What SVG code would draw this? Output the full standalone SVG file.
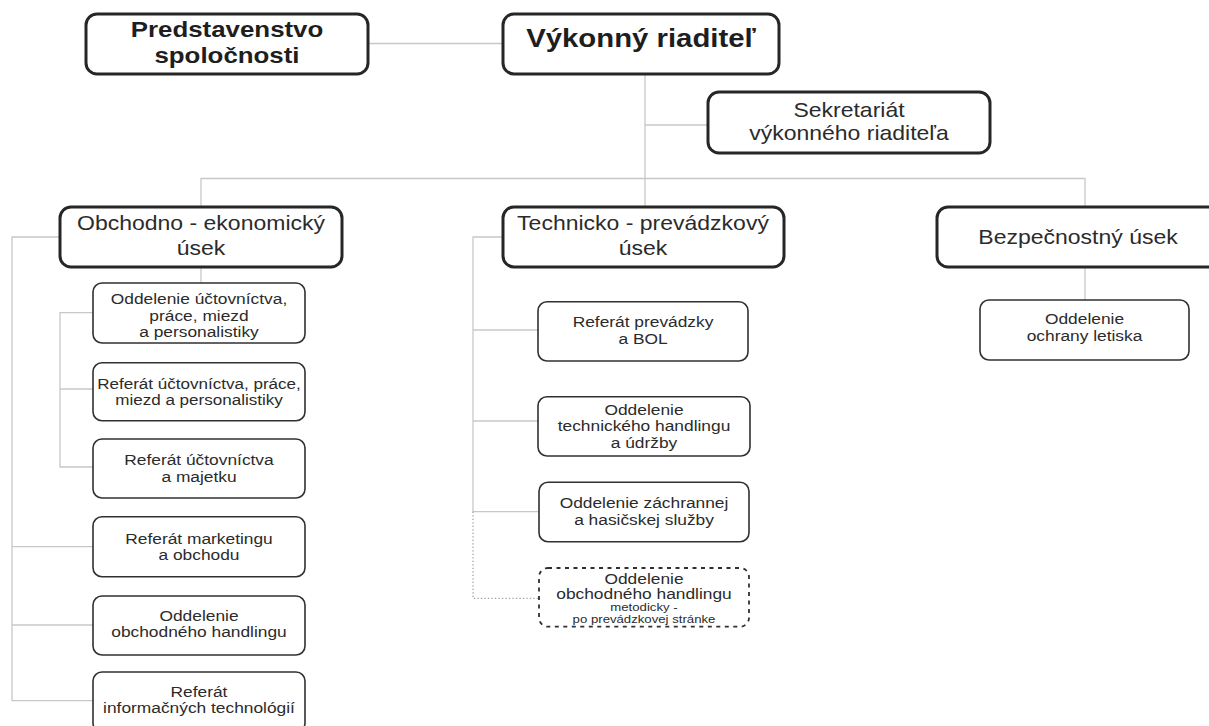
<svg xmlns="http://www.w3.org/2000/svg" width="1209" height="726" viewBox="0 0 1209 726">
<style>
.bg{fill:#ffffff}
.box{fill:#ffffff;stroke:#262626;stroke-width:3}
.sub{fill:#ffffff;stroke:#303030;stroke-width:1.6}
.dash{fill:#ffffff;stroke:#303030;stroke-width:1.8;stroke-dasharray:4 4.5}
.conn{fill:none;stroke:#c8c8c8;stroke-width:1.3}
.dot{fill:none;stroke:#a0a0a0;stroke-width:1.3;stroke-dasharray:1.3 2.2}
text{font-family:"Liberation Sans",Arial,sans-serif;fill:#2b2b2b;text-anchor:middle}
.b1{font-size:25.5px;font-weight:bold;fill:#1e1e1e}
.b2{font-size:22.5px;font-weight:bold;fill:#1e1e1e}
.m{font-size:20px}
.s{font-size:15.5px}
.t{font-size:11px}
</style>
<rect class="bg" x="0" y="0" width="1209" height="726"/>
<g id="connectors">
<path class="conn" d="M368,43.5 H503"/>
<path class="conn" d="M645,74 V207"/>
<path class="conn" d="M645,125 H708"/>
<path class="conn" d="M201,207 V178.5 H1085 V207"/>
<path class="conn" d="M1085,267 V300"/>
<path class="conn" d="M201,267 V283"/>
<path class="conn" d="M93,312.7 H60 V467 H93"/>
<path class="conn" d="M60,389 H93"/>
<path class="conn" d="M60,237 H12 V700.7 H93"/>
<path class="conn" d="M12,546.7 H93"/>
<path class="conn" d="M12,625 H93"/>
<path class="conn" d="M503,237 H473 V511.7 H539"/>
<path class="conn" d="M473,330 H538"/>
<path class="conn" d="M473,421 H538"/>
<path class="dot" d="M473,511.7 V598.3 H539"/>
</g>
<g id="predstavenstvo">
<rect class="box" x="86" y="14" width="282" height="60" rx="11"/>
<text class="b2" transform="translate(227 0) scale(1.15 1)"><tspan x="0" y="37">Predstavenstvo</tspan><tspan x="0" y="63">spoločnosti</tspan></text>
</g>
<g id="vykonny-riaditel">
<rect class="box" x="503" y="14" width="276" height="60" rx="11"/>
<text class="b1" transform="translate(641 0) scale(1.15 1)"><tspan x="0" y="47">Výkonný riaditeľ</tspan></text>
</g>
<g id="sekretariat">
<rect class="box" x="708" y="92" width="282" height="61" rx="11"/>
<text class="m" transform="translate(849 0) scale(1.15 1)"><tspan x="0" y="117">Sekretariát</tspan><tspan x="0" y="140">výkonného riaditeľa</tspan></text>
</g>
<g id="obchodno-ekonomicky">
<rect class="box" x="60" y="207" width="282" height="60" rx="11"/>
<text class="m" transform="translate(201 0) scale(1.15 1)"><tspan x="0" y="230">Obchodno - ekonomický</tspan><tspan x="0" y="255">úsek</tspan></text>
</g>
<g id="technicko-prevadzkovy">
<rect class="box" x="503" y="207" width="281" height="60" rx="11"/>
<text class="m" transform="translate(643 0) scale(1.15 1)"><tspan x="0" y="230">Technicko - prevádzkový</tspan><tspan x="0" y="255">úsek</tspan></text>
</g>
<g id="bezpecnostny">
<rect class="box" x="937" y="207" width="284" height="60" rx="11"/>
<text class="m" transform="translate(1078 0) scale(1.15 1)"><tspan x="0" y="244">Bezpečnostný úsek</tspan></text>
</g>
<g id="ochrana-letiska">
<rect class="sub" x="980" y="300" width="209" height="60" rx="9"/>
<text class="s" transform="translate(1084.5 0) scale(1.12 1)"><tspan x="0" y="324">Oddelenie</tspan><tspan x="0" y="341">ochrany letiska</tspan></text>
</g>
<g id="o1">
<rect class="sub" x="93" y="283" width="212" height="60" rx="9"/>
<text class="s" transform="translate(199 0) scale(1.12 1)"><tspan x="0" y="304">Oddelenie účtovníctva,</tspan><tspan x="0" y="321">práce, miezd</tspan><tspan x="0" y="337">a personalistiky</tspan></text>
</g>
<g id="o2">
<rect class="sub" x="93" y="362.7" width="212" height="58" rx="9"/>
<text class="s" transform="translate(199 0) scale(1.1 1)"><tspan x="0" y="389.5">Referát účtovníctva, práce,</tspan><tspan x="0" y="405.5">miezd a personalistiky</tspan></text>
</g>
<g id="o3">
<rect class="sub" x="93" y="439" width="212" height="59" rx="9"/>
<text class="s" transform="translate(199 0) scale(1.12 1)"><tspan x="0" y="465.5">Referát účtovníctva</tspan><tspan x="0" y="482">a majetku</tspan></text>
</g>
<g id="o4">
<rect class="sub" x="93" y="516.7" width="212" height="60" rx="9"/>
<text class="s" transform="translate(199 0) scale(1.12 1)"><tspan x="0" y="544.5">Referát marketingu</tspan><tspan x="0" y="560.5">a obchodu</tspan></text>
</g>
<g id="o5">
<rect class="sub" x="93" y="596" width="212" height="59" rx="9"/>
<text class="s" transform="translate(199 0) scale(1.12 1)"><tspan x="0" y="621">Oddelenie</tspan><tspan x="0" y="637">obchodného handlingu</tspan></text>
</g>
<g id="o6">
<rect class="sub" x="93" y="672" width="212" height="60" rx="9"/>
<text class="s" transform="translate(199 0) scale(1.12 1)"><tspan x="0" y="697">Referát</tspan><tspan x="0" y="713">informačných technológií</tspan></text>
</g>
<g id="t1">
<rect class="sub" x="538" y="301.7" width="210" height="59.3" rx="9"/>
<text class="s" transform="translate(643 0) scale(1.12 1)"><tspan x="0" y="327.5">Referát prevádzky</tspan><tspan x="0" y="344">a BOL</tspan></text>
</g>
<g id="t2">
<rect class="sub" x="538" y="396.7" width="212" height="59.3" rx="9"/>
<text class="s" transform="translate(644 0) scale(1.12 1)"><tspan x="0" y="415">Oddelenie</tspan><tspan x="0" y="431.5">technického handlingu</tspan><tspan x="0" y="448">a údržby</tspan></text>
</g>
<g id="t3">
<rect class="sub" x="539" y="482.3" width="210" height="59.4" rx="9"/>
<text class="s" transform="translate(644 0) scale(1.12 1)"><tspan x="0" y="508.5">Oddelenie záchrannej</tspan><tspan x="0" y="525">a hasičskej služby</tspan></text>
</g>
<g id="t4">
<rect class="dash" x="539" y="568" width="210" height="58.7" rx="9"/>
<text class="s" transform="translate(644 0) scale(1.12 1)"><tspan x="0" y="584">Oddelenie</tspan><tspan x="0" y="599">obchodného handlingu</tspan></text>
<text class="t" transform="translate(644 0) scale(1.2 1)"><tspan x="0" y="611.5">metodicky -</tspan><tspan x="0" y="623.5">po prevádzkovej stránke</tspan></text>
</g>
</svg>
